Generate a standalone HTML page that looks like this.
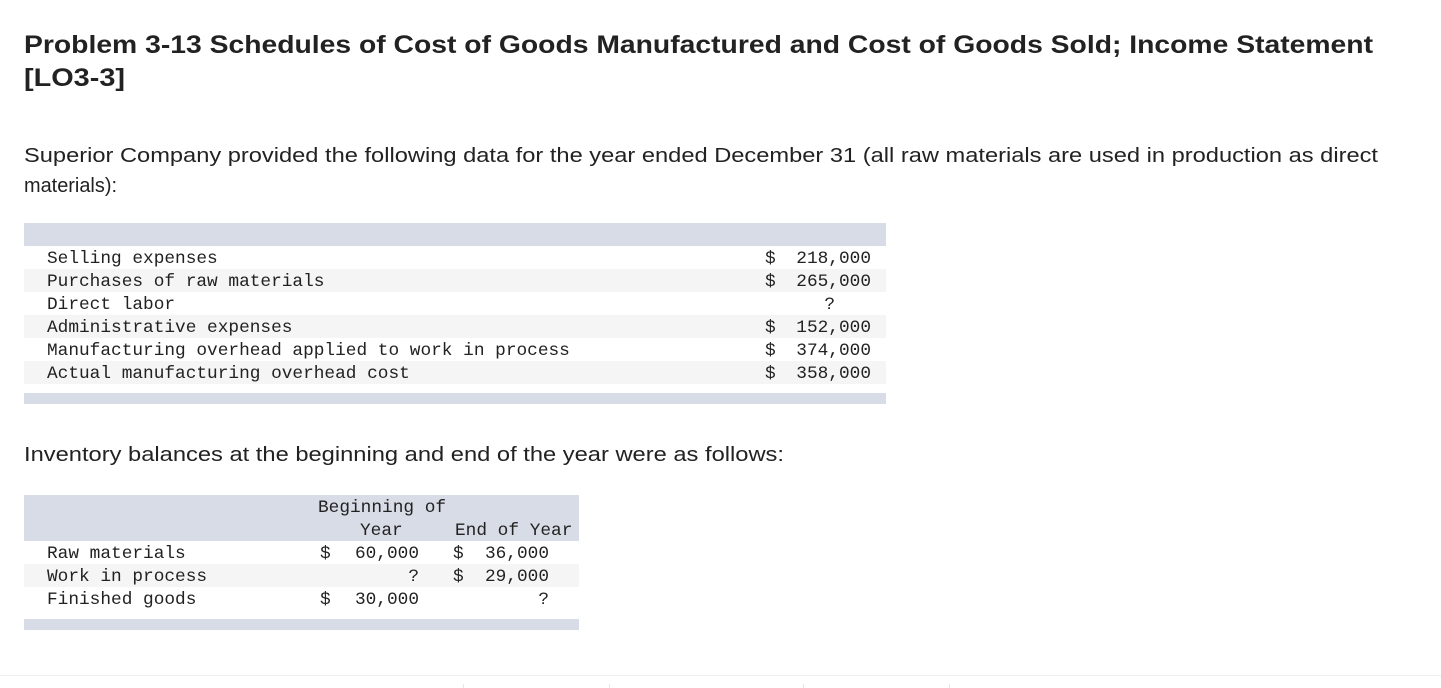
<!DOCTYPE html>
<html><head><meta charset="utf-8"><style>
body{margin:0;background:#fff;}
svg{display:block}
.t{font-family:"Liberation Sans",sans-serif;fill:#222}
.m{font-family:"Liberation Mono",monospace;font-size:17.8px;fill:#222}
</style></head><body>
<svg width="1441" height="688">
<text class="t" x="24" y="53" font-size="25" font-weight="bold" textLength="1349" lengthAdjust="spacingAndGlyphs">Problem 3-13 Schedules of Cost of Goods Manufactured and Cost of Goods Sold; Income Statement</text>
<text class="t" x="24" y="86" font-size="25" font-weight="bold" textLength="101" lengthAdjust="spacingAndGlyphs">[LO3-3]</text>
<text class="t" x="24" y="162" font-size="20" textLength="1354" lengthAdjust="spacingAndGlyphs">Superior Company provided the following data for the year ended December 31 (all raw materials are used in production as direct</text>
<text class="t" x="24" y="192" font-size="20" textLength="93" lengthAdjust="spacingAndGlyphs">materials):</text>

<g>
<rect x="24" y="223" width="862" height="23" fill="#d8dce6"/>
<rect x="24" y="269" width="862" height="23" fill="#f5f5f5"/>
<rect x="24" y="315" width="862" height="23" fill="#f5f5f5"/>
<rect x="24" y="361" width="862" height="23" fill="#f5f5f5"/>
<rect x="24" y="393" width="862" height="11" fill="#d8dce6"/>
<text class="m" x="47" y="263">Selling expenses</text>
<text class="m" x="47" y="286">Purchases of raw materials</text>
<text class="m" x="47" y="309">Direct labor</text>
<text class="m" x="47" y="332">Administrative expenses</text>
<text class="m" x="47" y="355">Manufacturing overhead applied to work in process</text>
<text class="m" x="47" y="378">Actual manufacturing overhead cost</text>
<text class="m" x="765" y="263">$</text><text class="m" x="871" y="263" text-anchor="end">218,000</text>
<text class="m" x="765" y="286">$</text><text class="m" x="871" y="286" text-anchor="end">265,000</text>
<text class="m" x="835" y="309" text-anchor="end">?</text>
<text class="m" x="765" y="332">$</text><text class="m" x="871" y="332" text-anchor="end">152,000</text>
<text class="m" x="765" y="355">$</text><text class="m" x="871" y="355" text-anchor="end">374,000</text>
<text class="m" x="765" y="378">$</text><text class="m" x="871" y="378" text-anchor="end">358,000</text>
</g>

<text class="t" x="24" y="461" font-size="20" textLength="760" lengthAdjust="spacingAndGlyphs">Inventory balances at the beginning and end of the year were as follows:</text>

<g>
<rect x="24" y="495" width="555" height="46" fill="#d8dce6"/>
<rect x="24" y="564" width="555" height="23" fill="#f5f5f5"/>
<rect x="24" y="619" width="555" height="11" fill="#d8dce6"/>
<text class="m" x="318" y="512">Beginning of</text>
<text class="m" x="360" y="535">Year</text>
<text class="m" x="455" y="535">End of Year</text>
<text class="m" x="47" y="558">Raw materials</text>
<text class="m" x="47" y="581">Work in process</text>
<text class="m" x="47" y="604">Finished goods</text>
<text class="m" x="320" y="558">$</text><text class="m" x="419" y="558" text-anchor="end">60,000</text>
<text class="m" x="453" y="558">$</text><text class="m" x="549" y="558" text-anchor="end">36,000</text>
<text class="m" x="419" y="581" text-anchor="end">?</text>
<text class="m" x="453" y="581">$</text><text class="m" x="549" y="581" text-anchor="end">29,000</text>
<text class="m" x="320" y="604">$</text><text class="m" x="419" y="604" text-anchor="end">30,000</text>
<text class="m" x="549" y="604" text-anchor="end">?</text>
</g>

<g>
<rect x="0" y="675" width="1441" height="1" fill="#eeeeee"/>
<rect x="463" y="684" width="1" height="4" fill="#e6e6e6"/>
<rect x="609" y="684" width="1" height="4" fill="#e6e6e6"/>
<rect x="803" y="684" width="1" height="4" fill="#e6e6e6"/>
<rect x="949" y="684" width="1" height="4" fill="#e6e6e6"/>
</g>
</svg>
</body></html>
